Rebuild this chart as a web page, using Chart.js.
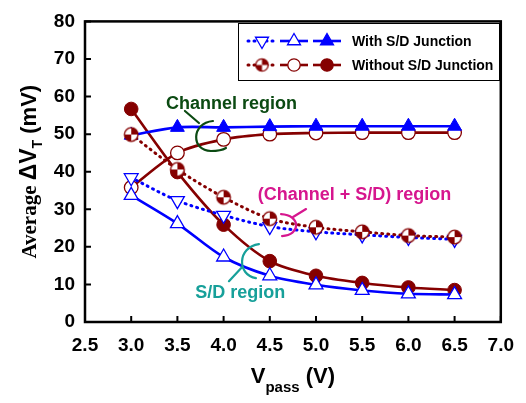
<!DOCTYPE html>
<html>
<head>
<meta charset="utf-8">
<script src="https://cdn.jsdelivr.net/npm/chart.js@4.4.1/dist/chart.umd.min.js"></script>
<style>
  html, body { margin: 0; padding: 0; background: #fff; }
</style>
</head>
<body>
<canvas id="grafica" width="526" height="403"></canvas>
<script>
// Datos
const vpass = [3.0, 3.5, 4.0, 4.5, 5.0, 5.5, 6.0, 6.5];
const conCanalSD = [38.4, 32.3, 28.4, 25.4, 24.0, 23.2, 22.5, 22.0];   // With S/D, triangulo abajo
const conSD      = [33.7, 26.2, 17.3, 12.3, 9.9, 8.4, 7.5, 7.3];       // With S/D, triangulo abierto
const conCanal   = [49.7, 51.8, 51.8, 52.0, 52.1, 52.1, 52.1, 52.1];   // With S/D, triangulo lleno
const sinCanalSD = [49.9, 40.6, 33.2, 27.5, 25.2, 24.0, 23.0, 22.6];   // Without, medio lleno
const sinCanal   = [35.8, 45.0, 48.6, 50.0, 50.3, 50.4, 50.4, 50.4];   // Without, circulo abierto
const sinSD      = [56.7, 39.9, 25.9, 16.2, 12.3, 10.4, 9.2, 8.5];     // Without, circulo lleno

const xTicks = [2.5, 3.0, 3.5, 4.0, 4.5, 5.0, 5.5, 6.0, 6.5, 7.0];
const yTicks = [0, 10, 20, 30, 40, 50, 60, 70, 80];
const leyendaTextos = ['With S/D Junction', 'Without S/D Junction'];

const AZUL = '#0000ff';
const ROJO = '#850000';
const FUENTE = '"Liberation Sans", Arial, Helvetica, sans-serif';

// Marcador circular con dos cuadrantes rellenos
function circuloMitad(r) {
    const c = document.createElement('canvas');
    const s = Math.ceil(r * 2 + 4);
    c.width = s; c.height = s;
    const g = c.getContext('2d');
    const m = s / 2;
    g.fillStyle = '#fff';
    g.beginPath(); g.arc(m, m, r, 0, Math.PI * 2); g.fill();
    g.fillStyle = ROJO;
    g.beginPath(); g.moveTo(m, m); g.arc(m, m, r, -Math.PI / 2, 0); g.closePath(); g.fill();
    g.beginPath(); g.moveTo(m, m); g.arc(m, m, r, Math.PI / 2, Math.PI); g.closePath(); g.fill();
    g.strokeStyle = ROJO; g.lineWidth = 1.3;
    g.beginPath(); g.arc(m, m, r, 0, Math.PI * 2); g.stroke();
    return c;
}
const marcaMitad = circuloMitad(6.8);
const marcaMitadLeyenda = circuloMitad(6.2);

const puntos = arr => vpass.map((v, i) => ({ x: v, y: arr[i] }));

const datasets = [
    { label: 'w-both', data: puntos(conCanalSD), borderColor: AZUL, backgroundColor: '#fff',
      borderWidth: 3, borderDash: [1, 5], borderCapStyle: 'round', pointStyle: 'triangle', rotation: 180,
      pointRadius: 8, pointBorderWidth: 1.3, order: 3 },
    { label: 'w-sd', data: puntos(conSD), borderColor: AZUL, backgroundColor: '#fff',
      borderWidth: 2.6, pointStyle: 'triangle', pointRadius: 8, pointBorderWidth: 1.3, order: 2 },
    { label: 'w-ch', data: puntos(conCanal), borderColor: AZUL, backgroundColor: AZUL,
      borderWidth: 2.6, pointStyle: 'triangle', pointRadius: 8, pointBorderWidth: 1, order: 1 },
    { label: 'wo-both', data: puntos(sinCanalSD), borderColor: ROJO, backgroundColor: ROJO,
      borderWidth: 3, borderDash: [1, 5], borderCapStyle: 'round', pointStyle: marcaMitad, order: 0 },
    { label: 'wo-ch', data: puntos(sinCanal), borderColor: ROJO, backgroundColor: '#fff',
      borderWidth: 2.6, pointStyle: 'circle', pointRadius: 6.8, pointBorderWidth: 1.3, order: 5 },
    { label: 'wo-sd', data: puntos(sinSD), borderColor: ROJO, backgroundColor: ROJO,
      borderWidth: 2.6, pointStyle: 'circle', pointRadius: 6.8, pointBorderWidth: 1, order: 4 }
];
datasets.forEach(d => { d.tension = 0.3; d.fill = false; });

// Dibujar un marcador para la leyenda
function marcador(ctx, d, x, y) {
    ctx.save();
    if (d.pointStyle instanceof HTMLCanvasElement) {
        const img = marcaMitadLeyenda;
        ctx.drawImage(img, x - img.width / 2, y - img.height / 2);
    } else if (d.pointStyle === 'triangle') {
        const r = 7.5;
        let rad = (d.rotation || 0) * Math.PI / 180;
        ctx.beginPath();
        for (let k = 0; k < 3; k++) {
            const px = x + Math.sin(rad) * r, py = y - Math.cos(rad) * r;
            k === 0 ? ctx.moveTo(px, py) : ctx.lineTo(px, py);
            rad += 2 * Math.PI / 3;
        }
        ctx.closePath();
        ctx.fillStyle = d.backgroundColor; ctx.fill();
        ctx.strokeStyle = d.borderColor; ctx.lineWidth = 1.3; ctx.stroke();
    } else {
        ctx.beginPath(); ctx.arc(x, y, 6.2, 0, Math.PI * 2);
        ctx.fillStyle = d.backgroundColor; ctx.fill();
        ctx.strokeStyle = d.borderColor; ctx.lineWidth = 1.3; ctx.stroke();
    }
    ctx.restore();
}

const marcoPlugin = {
    id: 'marco',
    beforeDatasetsDraw(chart) {
        const { ctx, chartArea: a, scales: { x, y } } = chart;
        ctx.save();
        ctx.strokeStyle = '#000';
        ctx.lineWidth = 2;
        ctx.beginPath();
        xTicks.forEach(v => {
            const px = x.getPixelForValue(v);
            ctx.moveTo(px, a.bottom); ctx.lineTo(px, a.bottom - 6);
        });
        yTicks.forEach(v => {
            const py = y.getPixelForValue(v);
            ctx.moveTo(a.left, py); ctx.lineTo(a.left + 6, py);
        });
        ctx.stroke();
        ctx.lineWidth = 2.5;
        ctx.strokeRect(a.left, a.top, a.right - a.left, a.bottom - a.top);
        ctx.restore();
    }
};

const textosPlugin = {
    id: 'textos',
    afterDatasetsDraw(chart) {
        const { ctx, chartArea: a, scales: { x, y } } = chart;
        const P = (vx, vy) => [x.getPixelForValue(vx), y.getPixelForValue(vy)];
        ctx.save();
        ctx.font = 'bold 18px ' + FUENTE;
        ctx.textBaseline = 'middle';
        ctx.textAlign = 'left';
        ctx.lineWidth = 2.2;
        ctx.lineCap = 'round';

        // Channel region
        let [tx, ty] = P(3.377, 58.1);
        ctx.fillStyle = '#0b4a12';
        ctx.fillText('Channel region', tx, ty);
        let [ax, ay] = P(3.863, 49.5);
        ctx.strokeStyle = '#0b4a12';
        ctx.beginPath();
        ctx.moveTo(ax - 26, ay - 25); ctx.lineTo(ax - 12, ay - 13);
        ctx.moveTo(ax + 2, ay - 15);
        ctx.bezierCurveTo(ax - 20, ay - 13, ax - 20, ay + 15, ax, ay + 15);
        ctx.quadraticCurveTo(ax + 10, ay + 15, ax + 15, ay + 12);
        ctx.stroke();

        // (Channel + S/D) region
        [tx, ty] = P(4.37, 33.9);
        ctx.fillStyle = '#d6168e';
        ctx.fillText('(Channel + S/D) region', tx, ty);
        [ax, ay] = P(4.665, 25.8);
        ctx.strokeStyle = '#d6168e';
        ctx.beginPath();
        ctx.moveTo(ax + 21, ay - 16); ctx.lineTo(ax + 8, ay - 8);
        ctx.moveTo(ax - 4, ay - 11);
        ctx.bezierCurveTo(ax + 16, ay - 10, ax + 16, ay + 10, ax - 3, ay + 11);
        ctx.stroke();

        // S/D region
        [tx, ty] = P(3.694, 7.6);
        ctx.fillStyle = '#17a09a';
        ctx.fillText('S/D region', tx, ty);
        [ax, ay] = P(4.296, 16.2);
        ctx.strokeStyle = '#17a09a';
        ctx.beginPath();
        ctx.moveTo(ax + 8, ay - 17);
        ctx.bezierCurveTo(ax - 14, ay - 14, ax - 14, ay + 14, ax + 5, ay + 17);
        ctx.moveTo(ax - 9, ay + 6); ctx.lineTo(ax - 22, ay + 20);
        ctx.stroke();
        ctx.restore();
    }
};

const leyendaPlugin = {
    id: 'leyenda',
    afterDraw(chart) {
        const ctx = chart.ctx;
        const d = chart.data.datasets;
        ctx.save();
        ctx.fillStyle = '#fff';
        ctx.fillRect(238, 23, 261, 57);
        ctx.strokeStyle = '#000';
        ctx.lineWidth = 1;
        ctx.strokeRect(238.5, 23.5, 261, 57);
        const filas = [[d[0], d[1], d[2]], [d[3], d[4], d[5]]];
        const cx = [262, 294, 327];
        const fy = [41, 65];
        filas.forEach((fila, f) => {
            fila.forEach((ds, k) => {
                ctx.save();
                ctx.strokeStyle = ds.borderColor;
                ctx.lineWidth = ds.borderWidth;
                ctx.lineCap = ds.borderDash ? 'round' : 'butt';
                ctx.setLineDash(ds.borderDash || []);
                ctx.beginPath();
                ctx.moveTo(cx[k] - 14, fy[f]); ctx.lineTo(cx[k] + 14, fy[f]);
                ctx.stroke();
                ctx.restore();
                marcador(ctx, ds, cx[k], fy[f]);
            });
            ctx.fillStyle = '#000';
            ctx.font = 'bold 14px ' + FUENTE;
            ctx.textBaseline = 'middle';
            ctx.fillText(leyendaTextos[f], 352, fy[f] + 1);
        });
        ctx.restore();
    }
};

const titulosPlugin = {
    id: 'titulos',
    afterDraw(chart) {
        const { ctx, chartArea: a } = chart;
        ctx.save();
        ctx.fillStyle = '#000';
        ctx.textBaseline = 'alphabetic';
        ctx.textAlign = 'left';

        // Titulo eje x: V_pass (V)
        const cxm = (a.left + a.right) / 2;
        const fGrande = 'bold 22px ' + FUENTE, fSub = 'bold 15px ' + FUENTE;
        ctx.font = fGrande; const w1 = ctx.measureText('V').width;
        const w3 = ctx.measureText(' (V)').width;
        ctx.font = fSub; const w2 = ctx.measureText('pass').width;
        let x0 = cxm - (w1 + w2 + w3) / 2;
        const base = 383;
        ctx.font = fGrande; ctx.fillText('V', x0, base);
        ctx.font = fSub; ctx.fillText('pass', x0 + w1, base + 9);
        ctx.font = fGrande; ctx.fillText(' (V)', x0 + w1 + w2, base);

        // Titulo eje y: Average ΔV_T (mV)
        const partes = [
            { t: 'Average ', f: 'bold 21px "Liberation Serif", "Times New Roman", serif', dy: 0 },
            { t: 'ΔV', f: 'bold 23px ' + FUENTE, dy: 0 },
            { t: 'T', f: 'bold 14px ' + FUENTE, dy: 6 },
            { t: ' (mV)', f: 'bold 22px ' + FUENTE, dy: 0 }
        ];
        let total = 0;
        partes.forEach(p => { ctx.font = p.f; p.w = ctx.measureText(p.t).width; total += p.w; });
        ctx.translate(36, (a.top + a.bottom) / 2);
        ctx.rotate(-Math.PI / 2);
        let px = -total / 2;
        partes.forEach(p => { ctx.font = p.f; ctx.fillText(p.t, px, p.dy); px += p.w; });
        ctx.restore();
    }
};

const ctx = document.getElementById('grafica').getContext('2d');
window.myChart = new Chart(ctx, {
    type: 'line',
    data: { datasets: datasets },
    options: {
        responsive: false,
        animation: false,
        devicePixelRatio: 1,
        layout: { padding: { left: 0, right: 15, top: 15, bottom: 0 } },
        plugins: { legend: { display: false }, tooltip: { enabled: false } },
        scales: {
            x: {
                type: 'linear',
                min: 2.5,
                max: 7.0,
                afterBuildTicks: s => { s.ticks = xTicks.map(v => ({ value: v })); },
                afterFit: s => { s.height = 81; },
                grid: { display: false, drawTicks: false },
                border: { display: false },
                ticks: {
                    padding: 12,
                    color: '#000',
                    font: { family: FUENTE, size: 19, weight: 'bold' },
                    callback: v => Number(v).toFixed(1),
                    maxRotation: 0
                }
            },
            y: {
                type: 'linear',
                min: 0,
                max: 80,
                afterBuildTicks: s => { s.ticks = yTicks.map(v => ({ value: v })); },
                afterFit: s => { s.width = 85; },
                grid: { display: false, drawTicks: false },
                border: { display: false },
                ticks: {
                    padding: 10,
                    color: '#000',
                    font: { family: FUENTE, size: 19, weight: 'bold' }
                }
            }
        }
    },
    plugins: [marcoPlugin, textosPlugin, leyendaPlugin, titulosPlugin]
});
</script>
</body>
</html>
